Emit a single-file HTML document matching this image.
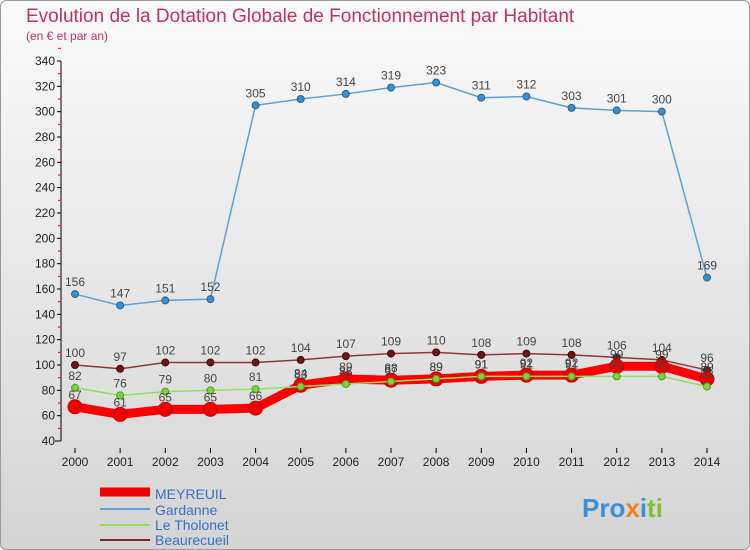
<!DOCTYPE html>
<html><head><meta charset="utf-8"><style>
body{margin:0;width:750px;height:550px;overflow:hidden;font-family:"Liberation Sans",sans-serif}
#wrap{position:absolute;left:0;top:0;width:748px;height:548px;border:1px solid #999;border-radius:6px;background:linear-gradient(#fafafa,#d4d4d4);}
</style></head><body>
<div id="wrap">
<svg width="750" height="550" style="position:absolute;left:-1px;top:-1px">
<text x="26" y="22" font-size="19" fill="#c0306a">Evolution de la Dotation Globale de Fonctionnement par Habitant</text>
<text x="26" y="40" font-size="12" fill="#c0306a">(en € et par an)</text>
<g id="axes"></g><g id="series"></g>
<g>
<line x1="100" y1="492" x2="150" y2="492" stroke="#e00" stroke-width="9"/>
<text x="155" y="499" font-size="14" fill="#3a6fc8">MEYREUIL</text>
<line x1="100" y1="509" x2="150" y2="509" stroke="#5fa0d0" stroke-width="2"/>
<text x="155" y="515" font-size="14" fill="#3a6fc8">Gardanne</text>
<line x1="100" y1="525" x2="150" y2="525" stroke="#90e060" stroke-width="2"/>
<text x="155" y="530" font-size="14" fill="#3a6fc8">Le Tholonet</text>
<line x1="100" y1="540" x2="150" y2="540" stroke="#7a2828" stroke-width="2"/>
<text x="155" y="545" font-size="14" fill="#3a6fc8">Beaurecueil</text>
</g>
<text x="582" y="517" font-size="26" font-weight="bold"><tspan fill="#3a8fd8">Pro</tspan><tspan fill="#f08020">x</tspan><tspan fill="#3a8fd8">i</tspan><tspan fill="#80c030">ti</tspan></text>
</svg></div>
<script>
const years=[2000,2001,2002,2003,2004,2005,2006,2007,2008,2009,2010,2011,2012,2013,2014];
const meyreuil=[67,61,65,65,66,84,89,88,89,91,92,92,99,99,89];
const gardanne=[156,147,151,152,305,310,314,319,323,311,312,303,301,300,169];
const tholonet=[82,76,79,80,81,83,85,87,89,91,91,91,91,91,83];
const beaurecueil=[100,97,102,102,102,104,107,109,110,108,109,108,106,104,96];
const yTicks=[40,60,80,100,120,140,160,180,200,220,240,260,280,300,320,340];
const NS="http://www.w3.org/2000/svg";
const X=i=>75+i*(707-75)/(years.length-1);
const Y=v=>441-(v-40)*380/300;
function mk(t,a,p){const e=document.createElementNS(NS,t);for(const k in a)e.setAttribute(k,a[k]);p.appendChild(e);return e;}
const ax=document.getElementById('axes'),sg=document.getElementById('series');
const yl=mk('line',{x1:61,y1:Y(340),x2:61,y2:Y(40),stroke:'#000'},ax);

const xl=mk('line',{x1:55,y1:Y(40),x2:61,y2:Y(40),stroke:'#000'},ax);

yTicks.forEach(v=>{mk('line',{x1:57,y1:Y(v),x2:61,y2:Y(v),stroke:'#000'},ax);
mk('line',{x1:58,y1:Y(v+10),x2:61,y2:Y(v+10),stroke:'#e00'},ax);
const t=mk('text',{x:55,y:Y(v)+4,'text-anchor':'end','font-size':12,fill:'#222'},ax);t.textContent=v;
});
years.forEach((y,i)=>{mk('line',{x1:X(i),y1:Y(40)+7,x2:X(i),y2:Y(40)+12,stroke:'#000'},ax);
const t=mk('text',{x:X(i),y:Y(40)+25,'text-anchor':'middle','font-size':12,fill:'#222'},ax);t.textContent=y;
});
function series(d,name,col,w,r,fill,stroke,sw,labels){
const g=mk('g',{},sg);
const pl=mk('polyline',{points:d.map((v,i)=>X(i)+','+Y(v)).join(' '),fill:'none',stroke:col,'stroke-width':w,'stroke-linejoin':'round'},g);

d.forEach((v,i)=>{const c=mk('circle',{cx:X(i),cy:Y(v),r:r,fill:fill,stroke:stroke,'stroke-width':sw},g);

if(labels){const t=mk('text',{x:X(i),y:Y(v)-8,'text-anchor':'middle','font-size':12,fill:'#444'},g);t.textContent=v;
}});}
series(gardanne,'gardanne','#5fa0d0',1.5,3.5,'#3a8fd0','#2a6090',1,true);
series(beaurecueil,'beaurecueil','#8a3838',1.5,3.5,'#6a1818','#4a0808',1,true);
series(meyreuil,'meyreuil','#f00',9,7,'#e00','#c00',1,false);
series(tholonet,'le-tholonet','#90e060',1.5,3.5,'#80d040','#50a020',1,true);
meyreuil.forEach((v,i)=>{const t=mk('text',{x:X(i),y:Y(v)-8,'text-anchor':'middle','font-size':12,fill:'#444'},sg);t.textContent=v;
});
</script>
</body></html>
